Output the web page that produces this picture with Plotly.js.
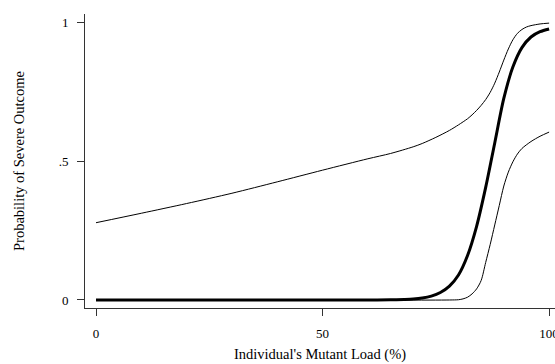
<!DOCTYPE html>
<html>
<head>
<meta charset="utf-8">
<script src="https://cdn.plot.ly/plotly-3.0.1.min.js"></script>
<style>html,body{margin:0;padding:0;background:#fff;}#chart{width:555px;height:364px;}</style>
</head>
<body>
<div id="chart"></div>
<script>
// Point estimate (thick line)
const estX = [0, 10, 20, 30, 40, 50, 60, 65, 68, 70, 72, 74, 76, 78, 80, 82, 84, 86, 88, 90, 92, 94, 96, 98, 100];
const estY = [0, 0, 0, 0, 0, 0, 0.0002, 0.0007, 0.002, 0.0035, 0.007, 0.014, 0.027, 0.05, 0.09, 0.16, 0.265, 0.405, 0.565, 0.725, 0.838, 0.908, 0.946, 0.965, 0.975];
// Upper confidence bound
const upX = [0, 10, 20, 30, 40, 50, 60, 65, 70, 72, 75, 78, 80, 82, 83, 84, 85, 86, 87, 88, 89, 90, 91, 92, 93, 94, 95, 96, 98, 100];
const upY = [0.278, 0.312, 0.347, 0.384, 0.425, 0.467, 0.508, 0.527, 0.551, 0.563, 0.585, 0.61, 0.63, 0.652, 0.666, 0.682, 0.7, 0.721, 0.747, 0.78, 0.82, 0.863, 0.903, 0.936, 0.959, 0.973, 0.982, 0.987, 0.993, 0.996];
// Lower confidence bound
const loX = [0, 50, 78, 80, 81, 82, 83, 84, 85, 86, 87, 88, 89, 90, 91, 92, 93, 94, 96, 98, 100];
const loY = [0, 0, 0, 0.001, 0.004, 0.01, 0.022, 0.04, 0.07, 0.135, 0.2, 0.27, 0.34, 0.41, 0.46, 0.497, 0.525, 0.545, 0.57, 0.589, 0.604];

const xTicks = [0, 50, 100];
const xTickText = ['0', '50', '100'];
const yTicks = [0, 0.5, 1];
const yTickText = ['0', '.5', '1'];

const sm = 0.8;
const traces = [
  {x: loX, y: loY, mode: 'lines', line: {color: '#000', width: 1, shape: 'spline', smoothing: sm}, hoverinfo: 'skip'},
  {x: upX, y: upY, mode: 'lines', line: {color: '#000', width: 1, shape: 'spline', smoothing: sm}, hoverinfo: 'skip'},
  {x: estX, y: estY, mode: 'lines', line: {color: '#000', width: 3, shape: 'spline', smoothing: sm}, hoverinfo: 'skip'}
];

const font = {family: '"Liberation Serif", "Times New Roman", serif', color: '#000'};

const layout = {
  width: 555, height: 364,
  margin: {l: 85, r: 0, t: 14, b: 56},
  paper_bgcolor: '#fff', plot_bgcolor: '#fff',
  showlegend: false,
  font: Object.assign({size: 13}, font),
  xaxis: {
    range: [-2.43, 101.3], showgrid: false, zeroline: false,
    showline: true, linecolor: '#333', linewidth: 1,
    ticks: 'outside', ticklen: 7, tickcolor: '#333', tickwidth: 1,
    tickvals: xTicks, ticktext: xTickText,
    tickfont: Object.assign({size: 13}, font),
    ticklabelstandoff: 6,
    ticklabeloverflow: 'allow',
    title: {text: "Individual's Mutant Load (%)", font: Object.assign({size: 14.5}, font), standoff: 9},
    automargin: false
  },
  yaxis: {
    range: [-0.0288, 1.0288], showgrid: false, zeroline: false,
    showline: true, linecolor: '#333', linewidth: 1,
    ticks: 'outside', ticklen: 7, tickcolor: '#333', tickwidth: 1,
    tickvals: yTicks, ticktext: yTickText,
    tickfont: Object.assign({size: 13}, font),
    ticklabelstandoff: 6,
    title: {text: 'Probability of Severe Outcome', font: Object.assign({size: 14.5}, font), standoff: 30},
    automargin: false
  }
};

Plotly.newPlot('chart', traces, layout, {displayModeBar: false, staticPlot: true});
</script>
</body>
</html>
